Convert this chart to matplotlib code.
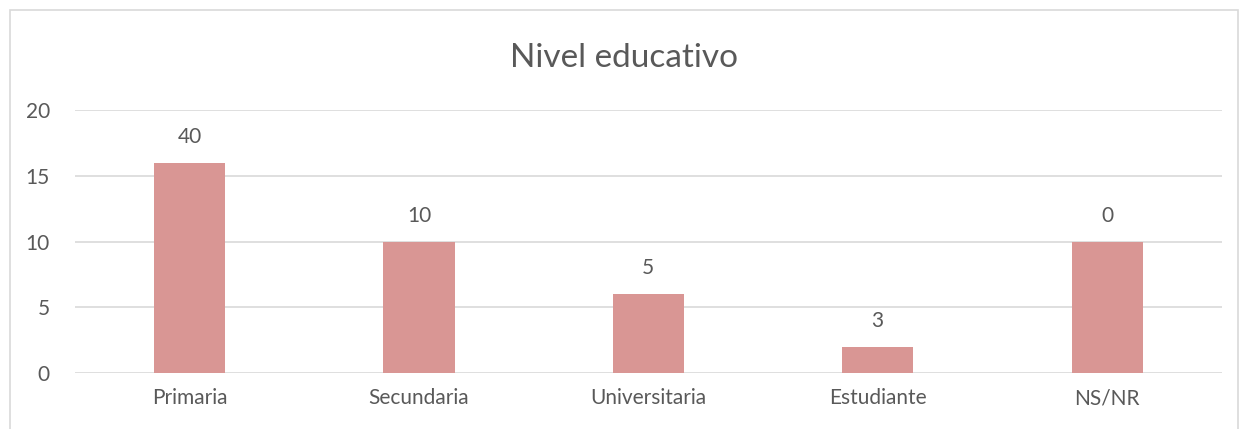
import matplotlib.pyplot as plt
from matplotlib.patches import Rectangle
import numpy as np

categories = ['Primaria', 'Secundaria', 'Universitaria', 'Estudiante', 'NS/NR']
heights = [16, 10, 6, 2, 10]
labels = ['40', '10', '5', '3', '0']

plt.rcParams['font.family'] = ['Lato', 'DejaVu Sans']
txt = '#595959'

fig = plt.figure(figsize=(12.48, 4.29), dpi=100)
ax = fig.add_axes([0.060, 0.1305, 0.919, 0.6131])

# chart border
fig.patches.append(Rectangle((10 / 1248, -0.05), 1228 / 1248, 1 - 10 / 429 + 0.05,
                             transform=fig.transFigure, fill=False,
                             edgecolor='#D9D9D9', linewidth=1.2))

x = np.arange(len(categories))
bars = ax.bar(x, heights, width=0.31, color='#D99694', zorder=3)
for b, lab in zip(bars, labels):
    ax.text(b.get_x() + b.get_width() / 2, b.get_height() + 1.2, lab,
            ha='center', va='bottom', fontsize=15, color=txt)

ax.set_xlim(-0.5, len(categories) - 0.5)
ax.set_ylim(0, 20)
ax.set_yticks([0, 5, 10, 15, 20])
ax.set_xticks(x)
ax.set_xticklabels(categories)
ax.grid(axis='y', color='#D9D9D9', linewidth=1.2, zorder=0)
for s in ax.spines.values():
    s.set_visible(False)
ax.tick_params(length=0, labelsize=15, labelcolor=txt)
ax.tick_params(axis='x', pad=11)
ax.tick_params(axis='y', pad=18)

fig.text(0.5, 0.865, 'Nivel educativo', ha='center', va='center',
         fontsize=24, color=txt)

fig.savefig('out.png', dpi=100)
